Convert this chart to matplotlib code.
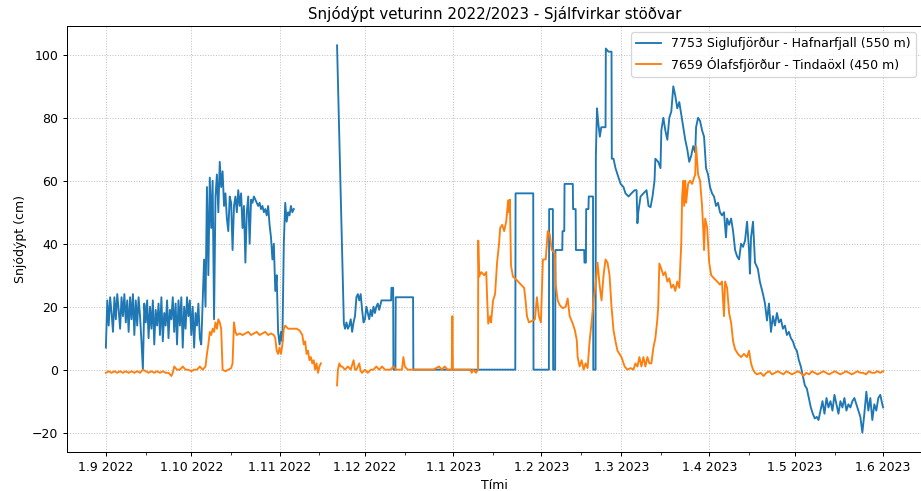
import numpy as np
import pandas as pd
import matplotlib
matplotlib.use("Agg")
from matplotlib import pyplot as plt
import matplotlib.dates as mdates
from matplotlib.ticker import FuncFormatter

# day offsets from 1.9.2022 and snow depth (cm)
start = pd.Timestamp("2022-09-01")

# 7753 Siglufjörður - Hafnarfjall
blue_autumn_days = [0, 0.5, 1, 1.5, 2, 2.5, 3, 3.5, 4, 4.5, 5, 5.5, 6, 6.5, 7, 7.5, 8, 8.5, 9, 9.5,
                    10, 10.5, 11, 11.5, 12, 12.5, 13, 13.5, 14, 14.5, 15, 15.5, 16, 16.5, 17, 17.5,
                    18, 18.5, 19, 19.5, 20, 20.5, 21, 21.5, 22, 22.5, 23, 23.5, 24, 24.5, 25, 25.5,
                    26, 26.5, 27, 27.5, 28, 28.5, 29, 29.5, 30, 30.5, 31, 31.5, 32, 32.5, 33, 33.5,
                    34, 34.5, 35, 35.5, 36, 36.5, 37, 37.5, 38, 38.5, 39, 39.5, 40, 40.5, 41, 41.5,
                    42, 42.5, 43, 43.5, 44, 44.5, 45, 45.5, 46, 46.5, 47, 47.5, 48, 48.5, 49, 49.5,
                    50, 50.5, 51, 51.5, 52, 52.5, 53, 53.5, 54, 54.5, 55, 55.5, 56, 56.5, 57, 57.5,
                    58, 58.5, 59, 59.5, 60, 60.5, 61, 61.5, 62, 62.5, 63, 63.5, 64, 64.5, 65, 65.5, 66]
blue_autumn = [7, 22, 14, 23, 18, 12, 23, 16, 24, 19, 13, 23, 17, 24, 15, 22, 12, 23, 16, 24,
               11, 22, 14, 23, 17, 9, 0, 21, 15, 22, 10, 20, 13, 22, 8, 19,
               14, 21, 11, 23, 9, 18, 14, 22, 10, 19, 16, 23, 12, 21, 8, 22,
               14, 23, 7, 20, 13, 23, 17, 22, 11, 20, 7, 18, 14, 21, 10, 8,
               22, 35, 20, 58, 30, 61, 45, 60, 16, 55, 62, 50, 66, 58, 63, 52,
               56, 48, 44, 55, 53, 38, 52, 55, 50, 57, 52, 56, 45, 52, 34, 50,
               55, 40, 54, 53, 55, 54, 53, 52, 53, 51, 52, 50, 51, 49, 52, 46,
               42, 35, 40, 25, 30, 12, 8, 12, 9, 40, 53, 47, 50, 49, 52, 50, 51]

blue_winter_days = [81.2, 83.6, 84, 84.5, 85, 85.5, 86, 86.5, 87, 87.5, 88, 88.5, 89, 89.5, 90,
                    90.5, 91, 91.5, 92, 92.5, 93, 93.5, 94, 94.5, 95, 95.5, 96, 96.8, 100.2, 100.3,
                    100.9, 101.0, 101.7, 101.8, 107.9, 108.0, 143.8, 143.9, 150.1, 150.2, 155.6,
                    155.7, 157.0, 157.1, 157.8, 157.9, 160.3, 160.4, 161.0, 161.1, 164.0, 164.1,
                    165.0, 165.1, 168.0, 168.1, 168.6, 168.7, 169.5, 169.6, 171.1, 171.2, 172.0,
                    172.1, 172.5, 173, 173.5, 174, 175.5, 175.6, 176.5, 177.6, 177.7]
blue_winter = [103, 14.6, 13, 15, 13, 14, 16, 12, 15, 17, 23, 24, 22, 24, 19,
               15, 16, 20, 18, 16, 19, 17, 20, 18, 20, 21, 19, 22, 22, 26,
               26, 0, 0, 23, 23, 0, 0, 56, 56, 0, 0,
               51, 51, 0, 0, 38, 38, 44, 44, 59, 59, 51,
               51, 38, 38, 34, 34, 51, 51, 55, 55, 0, 0,
               68, 83, 78, 74, 77, 77, 102, 101, 101, 67]

blue_spring_days = [178.3, 179, 179.7, 180.8, 181.8, 182.5, 183.6, 184.6, 185.7, 186.4, 186.7,
                    187, 187.8, 188.8, 189.9, 190.6, 191.3, 192, 192.7, 193, 194, 194.8, 195.1,
                    195.8, 196.5, 197.2, 197.9, 198.6, 199.3, 200, 200.7, 201.4, 202.1, 202.8,
                    203.5, 204.2, 204.9, 205.6, 206.3, 207, 207.3, 208, 208.7, 209.4, 210.1,
                    210.8, 211.5, 212.2, 212.9, 213.6, 214.3, 215, 215.7, 216.4, 217.1, 217.8,
                    218.2, 218.9, 219.6, 220.3, 221, 221.7, 222.4, 223.1, 223.8, 224.5, 225.2,
                    225.9, 226.2, 226.6, 227.3, 228, 229, 229.7, 230.8, 231.5, 232.2, 232.9,
                    233.6, 234.3, 235, 235.7, 236.4, 237.1, 237.8, 238.5, 239.2, 239.9, 240.6,
                    241.3, 242, 242.7, 243.4, 244.1, 244.8, 245.5, 246.2, 246.9, 247.6, 248.3,
                    249, 249.7, 250.3, 251, 251.7, 252.4, 253.1, 253.8, 254.5, 255.2, 255.9,
                    256.6, 257.3, 258, 258.7, 259.4, 260.1, 260.8, 261.5, 262.2, 262.9, 263.6,
                    264.3, 265, 265.7, 266.4, 267.1, 267.8, 268.5, 269.2, 269.9, 270.6, 271.3,
                    272, 272.7, 273]
blue_spring = [67, 64, 62, 59, 58, 56, 55, 56, 57, 57, 46.5,
               50, 55, 56, 57, 52, 51.6, 55, 60, 67, 66, 64, 76,
               80, 76, 73, 80, 82, 90, 87, 83, 85, 81, 77,
               73, 70, 66, 68, 71, 69, 77, 80, 79, 76, 74,
               64, 62, 58, 56, 55, 52, 53, 50, 49, 50, 42,
               48, 46, 48, 44, 38, 36, 35, 40, 39, 41, 47,
               38, 30.5, 42, 47, 34, 32, 28, 24, 21, 15.6, 21,
               12, 17, 14, 18, 15, 16, 13, 14, 11, 12, 10,
               9, 7, 6, 3, 1, -2, -5, -6, -9, -12, -14,
               -15.5, -15, -16, -13, -10, -14, -9, -12, -10, -13, -8,
               -11, -14, -10, -12, -9, -13, -11, -12, -10, -9, -11,
               -13, -15, -20, -14, -7, -13, -9, -16, -11, -13, -9,
               -8, -11, -12]

# 7659 Ólafsfjörður - Tindaöxl
orange_autumn_days = [0, 1, 2, 3, 4, 5, 6, 7, 8, 9, 10, 11, 12, 13, 14, 15, 16, 17, 18, 19, 20,
                      21, 22, 23, 23.5, 24, 25, 26, 27, 28, 29, 30, 31, 32, 33, 34, 35, 35.5, 36,
                      36.5, 37, 37.5, 38, 38.5, 39, 39.5, 40, 40.5, 41, 42, 43, 44, 44.5, 45, 45.5,
                      46, 47, 48, 49, 50, 51, 52, 53, 54, 55, 56, 57, 58, 59, 59.5, 60, 60.5, 61,
                      61.5, 62, 62.5, 63, 64, 65, 66, 67, 68, 69, 69.5, 70, 70.5, 71, 71.5, 72,
                      72.5, 73, 73.5, 74, 74.5, 75, 75.5]
orange_autumn = [-1, -0.5, -1, -0.5, -1, -0.5, -1, -0.5, -1, -0.5, -1, -0.5, -1, 0, -0.5, -1,
                 -0.5, -1, -0.5, -1, -0.5, -1, -1, -2, -1, 1, 0, 0, 1, 0, 0, -0.5, 0, 0, 1, 0,
                 1, 5, 8, 12, 11, 13, 12, 15, 13, 16, 15, 13, 0, -0.5, 0, 0.5, 2, 15, 12,
                 11, 11.5, 11, 11.5, 12, 11, 11.5, 12, 11, 11.5, 12, 11, 11.5, 11, 10, 6, 5,
                 7, 5, 8, 13, 14, 13, 13, 13, 13, 12.5, 11, 8, 9, 5, 6, 3, 4, 2, 3, 0, 2, -1,
                 1, 2]

orange_winter_days = [81.2, 81.5, 82, 82.5, 83, 84, 85, 86, 87, 87.5, 88, 89, 89.5, 90, 91, 92,
                      93, 94, 95, 96, 97, 98, 99, 100, 101, 102, 104, 104.5, 105, 106, 107, 115,
                      117, 118, 119, 120, 121.5, 121.7, 121.9, 123, 126, 128, 128.5, 129, 130,
                      130.7, 130.8, 131.1, 131.8, 132.9, 133.6, 133.9, 134.3, 135, 135.3, 136,
                      136.7, 137.4, 138.1, 138.5, 139.2, 139.9, 140.6, 141.3, 141.6, 141.9, 142.3,
                      143, 143.7, 144.8, 145.8, 146.9, 147.4, 147.9, 148.6, 149.7, 150.7, 151.4,
                      152.1, 152.8, 153.5, 154.5, 155.2, 155.9, 156.6, 157.7, 158, 158.7, 159.4,
                      160.5, 161.5, 162.2, 162.9, 164, 164.7, 165.4, 165.7, 166.4, 167.1, 167.8,
                      168.5, 169.2, 169.9, 170.6, 171.3, 172, 172.7, 173.4, 174.1, 174.8, 175.5,
                      176.2, 176.9, 177.6, 178.3, 179, 179.7, 180.4, 181.1, 182.2, 183.2, 184.3,
                      185.3, 186, 186.7, 187.4, 188.1, 188.8, 189.5, 190.2, 190.9, 191.6, 192.3,
                      193, 193.7, 194, 194.4, 195.1, 195.8, 196.5, 197.2, 197.9, 198.6, 199.3,
                      200, 200.7, 201.4, 202.1, 202.4, 202.8, 203.1, 203.5, 203.8, 204.5, 205.2,
                      205.9, 206.6, 207, 207.3, 208, 208.7, 209.4, 209.8, 210.1, 210.5, 211.2,
                      211.9, 212.6, 213.6, 214.7, 215.7, 216.4, 217.1, 217.5, 218.2, 218.9,
                      219.6, 220.3, 221, 222, 223.1, 224.1, 225.2, 225.9, 226.6, 227.3, 228,
                      228.7, 230, 231, 232, 233, 234, 235, 236, 237, 238, 239, 240, 241, 242,
                      243, 244, 245, 246, 247, 248, 249, 250, 251, 252, 253, 254, 255, 256, 257,
                      258, 259, 260, 261, 262, 263, 264, 265, 266, 267, 268, 269, 270, 271, 272,
                      273]
orange_winter = [-5, 0, 2, 1, 1, 0, 1, 0, 3, 0, 0, 2, -0.5, -1, 0, -1,
                 0, 0, 1, 0, 1, 0, 0, 0, 1, 0, 0, 4, 1, 0, 0, 0,
                 1, 0, 1, 0, 0, 17, 0, 0, 0, 0, -1, 0, -1,
                 0, 41, 29.5, 31, 30, 31, 23, 14.6, 17, 15, 22,
                 24, 34, 40, 45, 46, 44, 47, 53.8, 50, 54, 33,
                 29.5, 29, 28, 27, 26, 22, 17, 15, 15.5, 16, 23,
                 17, 15, 35, 35, 44, 43, 38, 37, 27, 22, 20.5,
                 19.5, 20, 22.6, 17, 14.6, 12.6, 9.4, 4, 1, 3, 0,
                 2, 0.5, 9, 15, 22, 27, 34, 27, 22, 30, 35,
                 34, 30, 20, 12.5, 9, 6, 5, 4, 1, 0, 0.5,
                 0, 2, 1, 4, 1, 4, 1, 4, 2, 2, 7,
                 10, 16, 20, 33.7, 32, 30, 31, 28, 29, 26, 27,
                 25, 28, 26, 40, 55, 60, 52, 60, 53, 59, 60,
                 59, 61, 62, 71, 62, 60, 52, 45, 38, 48, 45,
                 34, 30, 29, 28, 27, 28, 17, 28, 26, 18,
                 15, 9, 6.5, 5, 4, 5, 4, 6, 2, 0, -1,
                 -1.5, -1, -2, -1, -0.5, -1.5, -1, -0.5, -1, -1.5, -0.5, -1, -1.5, -1,
                 -0.5, -1, -2, -1, -1.5, -0.5, -1, -1.5, -1, -0.5, -1, -1.5, -1, -0.5, -1,
                 -1.5, -1, -0.5, -1, -1.5, -1, -0.5, -1, -1, -1.5, -0.5, -1, -1, -0.5, -1,
                 -0.5]

blue_label = "7753 Siglufjörður - Hafnarfjall (550 m)"
orange_label = "7659 Ólafsfjörður - Tindaöxl (450 m)"


def to_series(parts):
    # join segments, NaN between them so the line breaks in the gap
    days, vals = [], []
    for i, (d, v) in enumerate(parts):
        if i > 0:
            days.append(d[0] - 0.01)
            vals.append(np.nan)
        days += list(d)
        vals += list(v)
    return start + pd.to_timedelta(days, unit="D"), np.array(vals, dtype=float)


blue_t, blue_v = to_series([(blue_autumn_days, blue_autumn),
                            (blue_winter_days + blue_spring_days, blue_winter + blue_spring)])
orange_t, orange_v = to_series([(orange_autumn_days, orange_autumn),
                                (orange_winter_days, orange_winter)])

fig = plt.figure(figsize=(922 / 90, 491 / 90), dpi=90)
ax = fig.add_axes([67 / 922, 39 / 491, 855 / 922, 426 / 491])

ax.plot(blue_t, blue_v, color="tab:blue", label=blue_label)
ax.plot(orange_t, orange_v, color="tab:orange", label=orange_label)

ax.xaxis.set_major_locator(mdates.MonthLocator(bymonthday=1))
ax.xaxis.set_minor_locator(mdates.MonthLocator(bymonthday=15))
ax.xaxis.set_major_formatter(FuncFormatter(
    lambda x, pos: "{0.day}.{0.month} {0.year}".format(mdates.num2date(x))))

ax.grid(True, linestyle=":", linewidth=0.8, color="#c0c0c0")
ax.set_title("Snjódýpt veturinn 2022/2023 - Sjálfvirkar stöðvar")
ax.set_xlabel("Tími")
ax.set_ylabel("Snjódýpt (cm)")
ax.legend(loc="upper right")

fig.savefig("out.png", dpi=90)
